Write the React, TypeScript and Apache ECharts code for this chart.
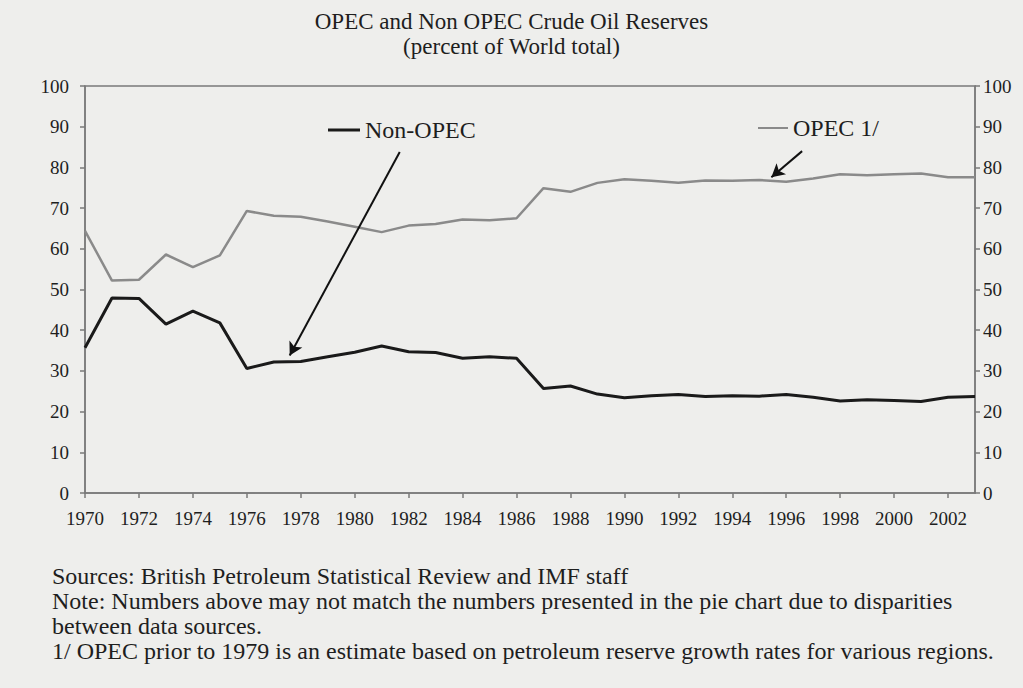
import React, { useEffect, useRef } from "react";
import * as echarts from "echarts";

const years = [
  1970, 1971, 1972, 1973, 1974, 1975, 1976, 1977, 1978, 1979,
  1980, 1981, 1982, 1983, 1984, 1985, 1986, 1987, 1988, 1989,
  1990, 1991, 1992, 1993, 1994, 1995, 1996, 1997, 1998, 1999,
  2000, 2001, 2002, 2003,
];
const opec = [
  64.4, 52.2, 52.4, 58.6, 55.5, 58.4, 69.3, 68.1, 67.9, 66.7,
  65.4, 64.1, 65.7, 66.1, 67.2, 67.0, 67.5, 74.9, 74.0, 76.2,
  77.1, 76.7, 76.2, 76.8, 76.7, 76.9, 76.5, 77.3, 78.3, 78.1,
  78.3, 78.5, 77.6, 77.6,
];
const nonOpec = [
  35.7, 47.9, 47.8, 41.5, 44.7, 41.8, 30.6, 32.2, 32.3, 33.5,
  34.6, 36.1, 34.7, 34.5, 33.1, 33.5, 33.1, 25.7, 26.3, 24.3,
  23.4, 23.9, 24.2, 23.7, 23.9, 23.8, 24.2, 23.5, 22.6, 22.9,
  22.7, 22.5, 23.5, 23.7,
];
const titleLines = ["OPEC and Non OPEC Crude Oil Reserves", "(percent of World total)"];
const footerLines = [
  "Sources: British Petroleum Statistical Review and IMF staff",
  "Note: Numbers above may not match the numbers presented in the pie chart due to disparities",
  "between data sources.",
  "1/ OPEC prior to 1979 is an estimate based on petroleum reserve growth rates for various regions.",
];
// annotation arrows: [fromYear, fromValue, toYear, toValue]
const nonOpecArrow = [1981.67, 83.8, 1977.59, 33.8];
const opecArrow = [1996.59, 84.0, 1995.45, 77.6];

const FONT = "'Liberation Serif', 'Times New Roman', serif";
const TXT = "#1e1e1e";
const AX = "#7a7a7a";

export default function App() {
  const ref = useRef<HTMLDivElement>(null);
  useEffect(() => {
    if (!ref.current) return;
    const chart = echarts.init(ref.current, null, { renderer: "svg" });
    const pairs = (vals: number[]) => years.map((y, i) => [y, vals[i]]);
    const arrow = (a: number[]) => ({
      silent: true,
      symbol: ["none", "arrow"],
      symbolSize: [11, 13],
      label: { show: false },
      lineStyle: { color: "#111", width: 2, type: "solid" },
      emphasis: { disabled: true },
      data: [[{ coord: [a[0], a[1]] }, { coord: [a[2], a[3]] }]],
    });
    chart.setOption({
      animation: false,
      backgroundColor: "#eeeeec",
      title: {
        text: titleLines.join("\n"),
        left: "center",
        top: 4,
        textStyle: { fontFamily: FONT, fontSize: 23, fontWeight: "normal", color: TXT, lineHeight: 25 },
      },
      legend: [
        {
          data: ["Non-OPEC"],
          left: 323,
          top: 113,
          icon: "rect",
          itemWidth: 32,
          itemHeight: 3,
          itemGap: 6,
          textStyle: { fontFamily: FONT, fontSize: 24, color: TXT },
          selectedMode: false,
        },
        {
          data: ["OPEC 1/"],
          left: 753,
          top: 111,
          icon: "rect",
          itemWidth: 30,
          itemHeight: 2,
          textStyle: { fontFamily: FONT, fontSize: 24, color: TXT },
          selectedMode: false,
        },
      ],
      grid: {
        left: 85,
        right: 48,
        top: 86,
        bottom: 195,
        show: true,
        borderColor: AX,
        borderWidth: 1.5,
        backgroundColor: "transparent",
      },
      xAxis: {
        type: "value",
        min: 1970,
        max: 2003,
        interval: 2,
        splitLine: { show: false },
        axisLine: { lineStyle: { color: AX, width: 1.5 } },
        axisTick: { show: true, length: 5, lineStyle: { color: AX, width: 1.5 } },
        axisLabel: {
          fontFamily: FONT,
          fontSize: 19,
          color: TXT,
          margin: 16,
          showMaxLabel: false,
          formatter: (v: number) => String(v),
        },
      },
      yAxis: [
        {
          type: "value",
          min: 0,
          max: 100,
          interval: 10,
          splitLine: { show: false },
          axisLine: { show: true, lineStyle: { color: AX, width: 1.5 } },
          axisTick: { show: true, length: 5, lineStyle: { color: AX, width: 1.5 } },
          axisLabel: { fontFamily: FONT, fontSize: 19, color: TXT, margin: 16 },
        },
        {
          type: "value",
          min: 0,
          max: 100,
          interval: 10,
          position: "right",
          splitLine: { show: false },
          axisLine: { show: true, lineStyle: { color: AX, width: 1.5 } },
          axisTick: { show: true, length: 5, lineStyle: { color: AX, width: 1.5 } },
          axisLabel: { fontFamily: FONT, fontSize: 19, color: TXT, margin: 8 },
        },
      ],
      series: [
        {
          name: "OPEC 1/",
          type: "line",
          data: pairs(opec),
          showSymbol: false,
          color: "#8a8a8a",
          lineStyle: { color: "#8a8a8a", width: 2.5 },
          markLine: arrow(opecArrow),
        },
        {
          name: "Non-OPEC",
          type: "line",
          data: pairs(nonOpec),
          showSymbol: false,
          color: "#1a1a1a",
          lineStyle: { color: "#1a1a1a", width: 3 },
          markLine: arrow(nonOpecArrow),
        },
      ],
      graphic: footerLines.map((t, i) => ({
        type: "text",
        left: 52,
        top: 564 + i * 25,
        style: { text: t, fontFamily: FONT, fontSize: 24, fill: TXT },
      })),
    });
    return () => chart.dispose();
  }, []);
  return (
    <div
      ref={ref}
      style={{ position: "absolute", left: 0, top: 0, width: 1023, height: 688 }}
    />
  );
}
